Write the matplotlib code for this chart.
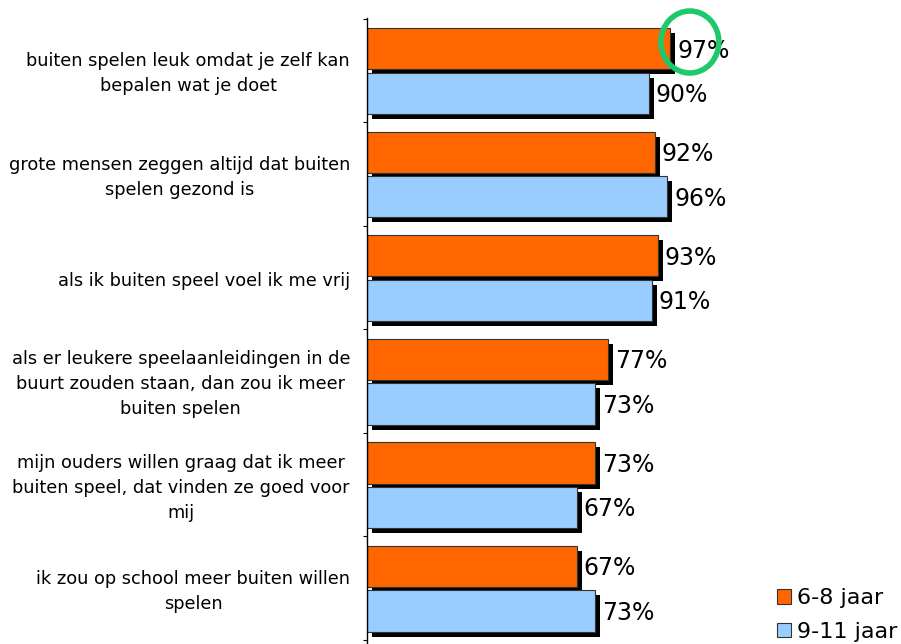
import numpy as np
import matplotlib.pyplot as plt
from matplotlib.patches import Ellipse, Patch

# data
categories = [
    "buiten spelen leuk omdat je zelf kan\nbepalen wat je doet",
    "grote mensen zeggen altijd dat buiten\nspelen gezond is",
    "als ik buiten speel voel ik me vrij",
    "als er leukere speelaanleidingen in de\nbuurt zouden staan, dan zou ik meer\nbuiten spelen",
    "mijn ouders willen graag dat ik meer\nbuiten speel, dat vinden ze goed voor\nmij",
    "ik zou op school meer buiten willen\nspelen",
]
young = [97, 92, 93, 77, 73, 67]   # 6-8 jaar
older = [90, 96, 91, 73, 67, 73]   # 9-11 jaar
series_names = ["6-8 jaar", "9-11 jaar"]
colors = ["#FF6600", "#99CCFF"]

W, H = 901, 644
fig = plt.figure(figsize=(W / 100, H / 100), dpi=100)
ax_left, ax_right = 367, 805
ax = fig.add_axes([ax_left / W, 0, (ax_right - ax_left) / W, 1 - 18 / H])

xmax = 140
ax.set_xlim(0, xmax)
ax.set_ylim(5.54, -0.507)

px_x = xmax / (ax_right - ax_left)   # data units per pixel (x)
px_y = 6.047 / (H - 18)              # data units per pixel (y)

y = np.arange(len(categories))
offsets = [-0.21, 0.22]
bar_h = 0.40
dx, dy = 5 * px_x, 5 * px_y

for vals, off, col in zip([young, older], offsets, colors):
    # drop shadow
    ax.barh(y + off + dy, vals, height=bar_h, left=dx, color="black", zorder=1)
    ax.barh(y + off, vals, height=bar_h, color=col, edgecolor="#333333",
            linewidth=0.8, zorder=2)
    for yi, v in zip(y + off, vals):
        ax.text(v + dx + 2 * px_x, yi + 0.02, f"{v}%", fontsize=17,
                va="center", ha="left", zorder=3)

# category labels
for yi, lab in zip(y, categories):
    ax.text(-(ax_left - 350) / (ax_right - ax_left), yi + 0.03, lab,
            transform=ax.get_yaxis_transform(), ha="right", va="center",
            multialignment="center", fontsize=12.8, linespacing=1.5)

# highlight around the top value
ax.add_patch(Ellipse((young[0] + 6.2, -0.275), 58 * px_x, 62 * px_y,
                     fill=False, edgecolor="#1DC96A", linewidth=4,
                     zorder=4, clip_on=False))

for s in ["top", "right", "bottom"]:
    ax.spines[s].set_visible(False)
ax.spines["left"].set_linewidth(1.0)
ax.set_xticks([])
ax.set_yticks(np.arange(len(categories) + 1) - 0.5)
ax.set_yticklabels([])
ax.tick_params(axis="y", direction="out", length=3)

handles = [Patch(facecolor=c, edgecolor="#333333", linewidth=0.8) for c in colors]
fig.legend(handles, series_names, loc="lower left",
           bbox_to_anchor=(764 / W, -11 / H), frameon=False, fontsize=16,
           handlelength=0.6, handleheight=0.6, handletextpad=0.3,
           labelspacing=0.6, borderpad=0.1)

fig.savefig("out.png", dpi=100)
